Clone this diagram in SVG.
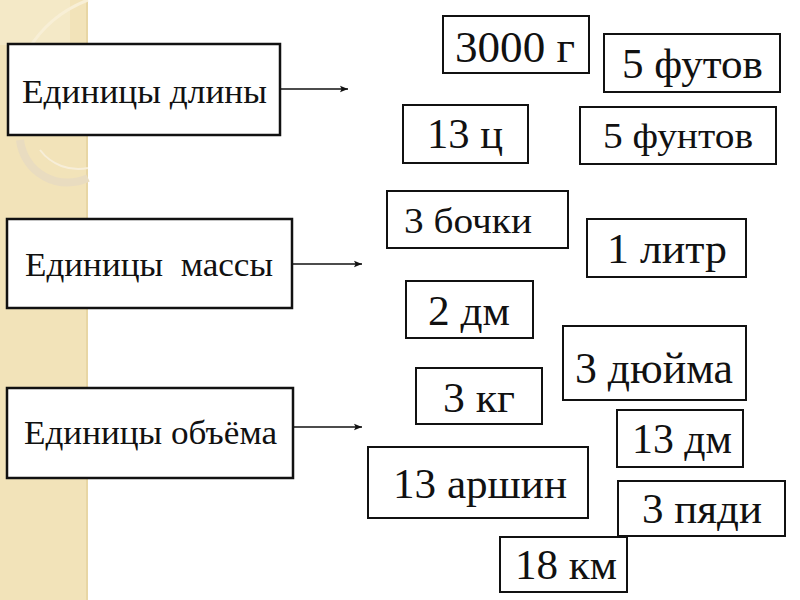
<svg xmlns="http://www.w3.org/2000/svg" width="800" height="600" viewBox="0 0 800 600">
<defs>
<style>
.box{fill:#fff;stroke:#111;stroke-width:2}
.lbox{fill:#fff;stroke:#111;stroke-width:2.5}
.t{font-family:"Liberation Serif","DejaVu Serif",serif;fill:#111}
.c{stroke:#111;stroke-width:1.6;fill:none}
</style>
<marker id="ah" viewBox="0 0 10 10" refX="10" refY="5" markerWidth="10" markerHeight="8" markerUnits="userSpaceOnUse" orient="auto">
<path d="M0,1 L10,5 L0,9 L2,5 Z" fill="#111"/>
</marker>
</defs>
<rect width="800" height="600" fill="#fff"/>
<g id="background">
<rect x="0" y="0" width="88" height="600" fill="#f2e3b9"/>
<rect x="86" y="0" width="2" height="600" fill="#e8d6a4"/>
<rect x="0" y="0" width="70" height="45" fill="#f5ebcd" opacity="0.7"/>
<path d="M88,0 A120,120 0 0 0 28,50" fill="none" stroke="#f8efd6" stroke-width="3"/>
<path d="M88,178 A48,48 0 0 1 20,140" fill="none" stroke="#e9dcc0" stroke-width="8"/>
<path d="M88,168 A48,48 0 0 1 40,150" fill="none" stroke="#f7eed8" stroke-width="2"/>
</g>
<g id="connectors">
<line class="c" x1="280" y1="89" x2="348" y2="89" marker-end="url(#ah)"/>
<line class="c" x1="292" y1="264" x2="362" y2="264" marker-end="url(#ah)"/>
<line class="c" x1="293" y1="427" x2="362" y2="427" marker-end="url(#ah)"/>
</g>
<g id="length">
<rect class="lbox" x="8" y="44" width="272" height="91"/>
<text class="t" x="22" y="103" font-size="34" textLength="245" lengthAdjust="spacingAndGlyphs">Единицы длины</text>
</g>
<g id="mass">
<rect class="lbox" x="7" y="219" width="285" height="89"/>
<text class="t" x="25" y="276" font-size="34" xml:space="preserve" textLength="248" lengthAdjust="spacingAndGlyphs">Единицы  массы</text>
</g>
<g id="volume">
<rect class="lbox" x="7" y="388" width="286" height="90"/>
<text class="t" x="24" y="444" font-size="34" textLength="253" lengthAdjust="spacingAndGlyphs">Единицы объёма</text>
</g>
<g id="n3000g"><rect class="box" x="443" y="16" width="146" height="57"/><text class="t" x="455" y="62" font-size="44" textLength="120" lengthAdjust="spacingAndGlyphs">3000 г</text></g>
<g id="n5ft"><rect class="box" x="604" y="34" width="176" height="58"/><text class="t" x="622" y="78" font-size="42" textLength="141" lengthAdjust="spacingAndGlyphs">5 футов</text></g>
<g id="n13c"><rect class="box" x="403" y="105" width="125" height="58"/><text class="t" x="427" y="148" font-size="42" textLength="76" lengthAdjust="spacingAndGlyphs">13 ц</text></g>
<g id="n5lb"><rect class="box" x="580" y="107" width="196" height="57"/><text class="t" x="603" y="148" font-size="36" textLength="150" lengthAdjust="spacingAndGlyphs">5 фунтов</text></g>
<g id="n3barrels"><rect class="box" x="387" y="191" width="181" height="57"/><text class="t" x="404" y="233" font-size="35" textLength="128" lengthAdjust="spacingAndGlyphs">3 бочки</text></g>
<g id="n1l"><rect class="box" x="587" y="219" width="159" height="58"/><text class="t" x="607" y="263" font-size="42" textLength="120" lengthAdjust="spacingAndGlyphs">1 литр</text></g>
<g id="n2dm"><rect class="box" x="406" y="281" width="127" height="57"/><text class="t" x="428" y="325" font-size="42" textLength="82" lengthAdjust="spacingAndGlyphs">2 дм</text></g>
<g id="n3in"><rect class="box" x="563" y="326" width="183" height="74"/><text class="t" x="575" y="383" font-size="44" textLength="158" lengthAdjust="spacingAndGlyphs">3 дюйма</text></g>
<g id="n3kg"><rect class="box" x="416" y="368" width="126" height="56"/><text class="t" x="443" y="412" font-size="42" textLength="72" lengthAdjust="spacingAndGlyphs">3 кг</text></g>
<g id="n13dm"><rect class="box" x="617" y="410" width="126" height="57"/><text class="t" x="632" y="453" font-size="42" textLength="100" lengthAdjust="spacingAndGlyphs">13 дм</text></g>
<g id="n13ar"><rect class="box" x="368" y="447" width="220" height="71"/><text class="t" x="393" y="498" font-size="42" textLength="174" lengthAdjust="spacingAndGlyphs">13 аршин</text></g>
<g id="n3sp"><rect class="box" x="618" y="481" width="167" height="55"/><text class="t" x="642" y="523" font-size="42" textLength="120" lengthAdjust="spacingAndGlyphs">3 пяди</text></g>
<g id="n18km"><rect class="box" x="500" y="537" width="127" height="55"/><text class="t" x="515" y="579" font-size="42" textLength="102" lengthAdjust="spacingAndGlyphs">18 км</text></g>
</svg>
